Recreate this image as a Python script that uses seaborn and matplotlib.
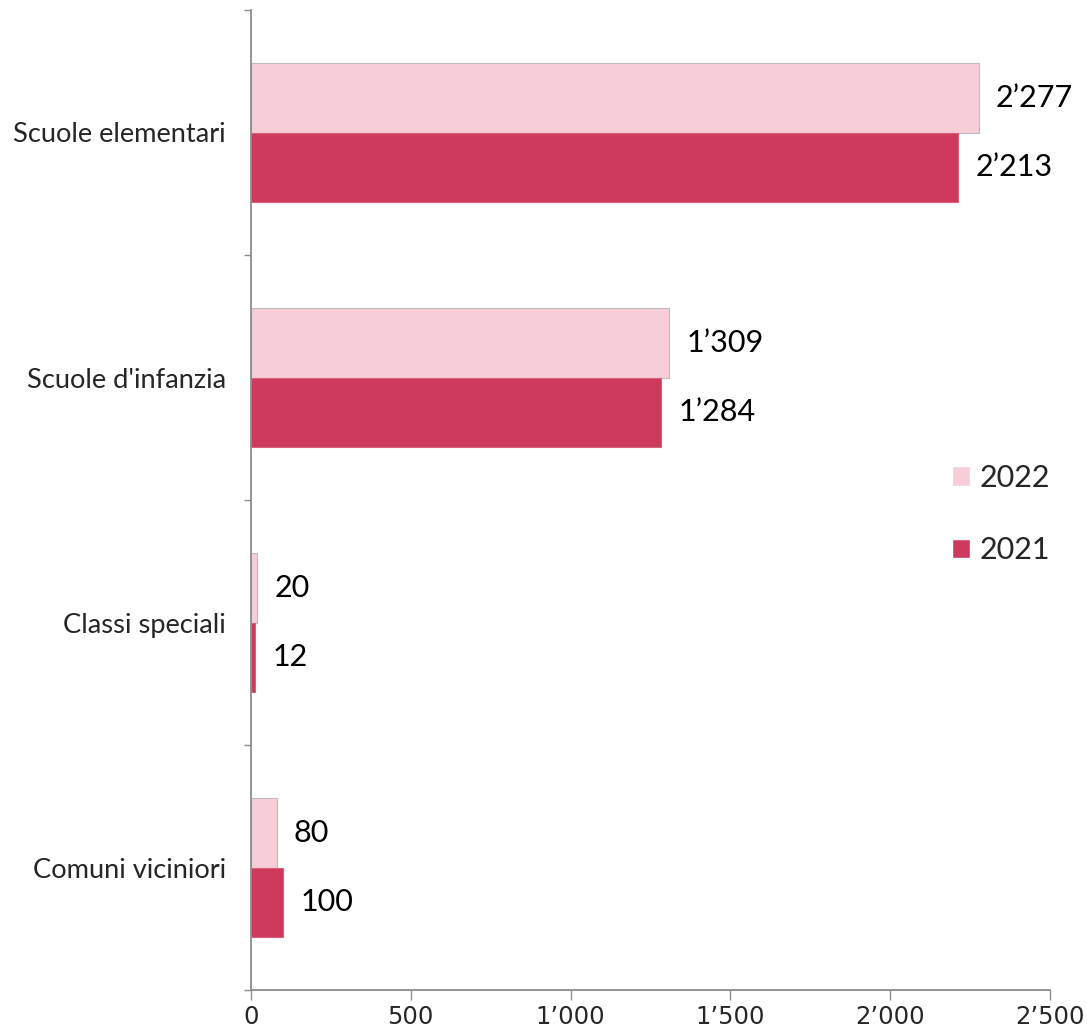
import numpy as np
import pandas as pd
import seaborn as sns
import matplotlib.pyplot as plt
from matplotlib.ticker import FuncFormatter, FixedLocator

# Data
categories = ["Scuole elementari", "Scuole d'infanzia", "Classi speciali", "Comuni viciniori"]
values_2022 = [2277, 1309, 20, 80]
values_2021 = [2213, 1284, 12, 100]
years = ["2022", "2021"]
colors = ["#F7CDD7", "#CD3A5C"]
xticks = [0, 500, 1000, 1500, 2000, 2500]

df = pd.DataFrame({
    "categoria": categories * 2,
    "anno": [years[0]] * len(categories) + [years[1]] * len(categories),
    "valore": values_2022 + values_2021,
})


def fmt_thousands(v):
    return f"{int(v):,}".replace(",", "\u2019")


sns.set_theme(style="white")
plt.rcParams['font.family'] = ['Lato', 'DejaVu Sans']

W, H = 1087, 1032
fig = plt.figure(figsize=(W / 100, H / 100), dpi=100)
ax = fig.add_axes([251 / W, (H - 990) / H, (1050 - 251) / W, 980 / H])

sns.barplot(data=df, y="categoria", x="valore", hue="anno", hue_order=years,
            order=categories, palette=colors, orient="h", width=0.571,
            saturation=1, ax=ax, legend=True)

edge_cols = ["#BDBDBD", "#D9607E"]
for cont, ec in zip(ax.containers, edge_cols):
    for p in cont:
        p.set_edgecolor(ec)
        p.set_linewidth(0.8)

# Value labels
for cont in ax.containers:
    labels = [fmt_thousands(p.get_width()) for p in cont]
    ax.bar_label(cont, labels=labels, padding=12.5, fontsize=22, color="black")

# Axes styling
ax.set_xlim(0, 2500)
ax.set_ylim(len(categories) - 0.5, -0.5)
ax.set_xlabel("")
ax.set_ylabel("")
for s in ["top", "right"]:
    ax.spines[s].set_visible(False)
for s in ["left", "bottom"]:
    ax.spines[s].set_color("#8C8C8C")
    ax.spines[s].set_linewidth(1.3)

ax.xaxis.set_major_locator(FixedLocator(xticks))
ax.xaxis.set_major_formatter(FuncFormatter(lambda v, _: fmt_thousands(v)))
ax.tick_params(axis="x", direction="out", length=7, width=1, color="#8C8C8C",
               pad=4, labelsize=17.5, bottom=True)
for lab in ax.get_xticklabels():
    lab.set_fontfamily(["Liberation Sans Narrow", "DejaVu Sans"])

ax.tick_params(axis="y", which="major", length=0, pad=18, labelsize=19.6, left=True)
ax.set_yticks(np.arange(len(categories) + 1) - 0.5, minor=True)
ax.tick_params(axis="y", which="minor", direction="out", length=5, width=1,
               color="#8C8C8C", left=True)

# Legend
handles, labels = ax.get_legend_handles_labels()
ax.get_legend().remove()
fig.legend(handles, labels, loc="center left",
           bbox_to_anchor=(952 / W, 1 - 514 / H), frameon=False,
           fontsize=22, handlelength=0.6, handleheight=0.6,
           handletextpad=0.3, labelspacing=1.45, borderpad=0, borderaxespad=0)

fig.savefig("out.png", dpi=100, facecolor="white")
